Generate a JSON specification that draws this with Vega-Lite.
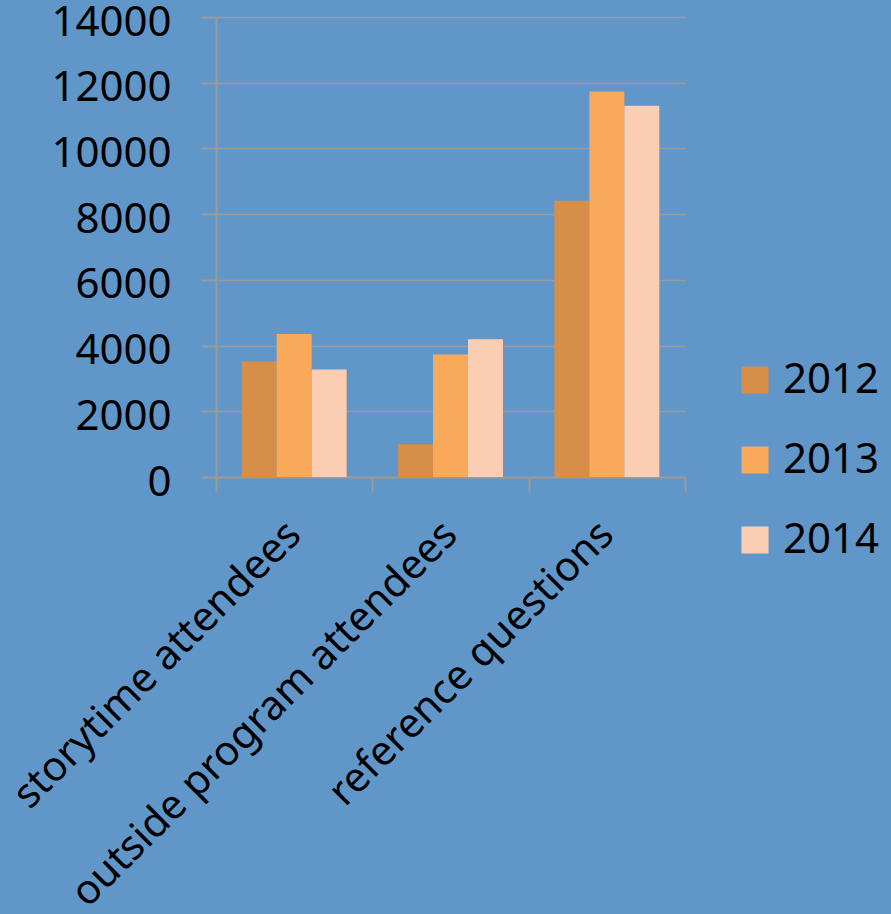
{
  "$schema": "https://vega.github.io/schema/vega-lite/v6.json",
  "autosize": "none",
  "width": 469,
  "height": 460,
  "padding": {"left": 216, "top": 17, "right": 206, "bottom": 437},
  "background": "#6096c8",
  "config": {
    "view": {"stroke": null},
    "font": "Noto Sans",
    "axis": {
      "labelFont": "Noto Sans",
      "labelFontSize": 42,
      "labelColor": "#000000",
      "domainColor": "#9a9a9a",
      "tickColor": "#9a9a9a",
      "gridColor": "#9a9a9a",
      "domainWidth": 2,
      "tickWidth": 2,
      "gridWidth": 1.5,
      "tickSize": 15
    },
    "legend": {"labelFont": "Noto Sans", "labelFontSize": 42, "labelColor": "#000000"}
  },
  "data": {
    "values": [
      {"category": "storytime attendees", "year": "2012", "value": 3520},
      {"category": "storytime attendees", "year": "2013", "value": 4350},
      {"category": "storytime attendees", "year": "2014", "value": 3270},
      {"category": "outside program attendees", "year": "2012", "value": 1000},
      {"category": "outside program attendees", "year": "2013", "value": 3730},
      {"category": "outside program attendees", "year": "2014", "value": 4190},
      {"category": "reference questions", "year": "2012", "value": 8410},
      {"category": "reference questions", "year": "2013", "value": 11730},
      {"category": "reference questions", "year": "2014", "value": 11300}
    ]
  },
  "mark": {"type": "bar"},
  "encoding": {
    "x": {
      "field": "category",
      "type": "nominal",
      "sort": ["storytime attendees", "outside program attendees", "reference questions"],
      "scale": {"paddingInner": 0, "paddingOuter": 0},
      "axis": {
        "title": null,
        "labelAngle": -45,
        "labelAlign": "right",
        "labelBaseline": "middle",
        "labelFontSize": 41,
        "labelPadding": 36,
        "tickBand": "extent",
        "grid": false,
        "labelLimit": 1000
      }
    },
    "xOffset": {"field": "year", "type": "nominal", "scale": {"paddingInner": 0, "paddingOuter": 0.734}},
    "y": {
      "field": "value",
      "type": "quantitative",
      "scale": {"domain": [0, 14000], "nice": false},
      "axis": {
        "title": null,
        "values": [0, 2000, 4000, 6000, 8000, 10000, 12000, 14000],
        "format": "d",
        "labelPadding": 30,
        "labelOffset": 5,
        "grid": true
      }
    },
    "color": {
      "field": "year",
      "type": "nominal",
      "scale": {"domain": ["2012", "2013", "2014"], "range": ["#d68e48", "#f9a95a", "#fbceb4"]},
      "legend": {
        "title": null,
        "orient": "none",
        "legendX": 518,
        "legendY": 342,
        "symbolType": "square",
        "symbolSize": 729,
        "symbolStrokeWidth": 0,
        "rowPadding": 38,
        "labelOffset": 7
      }
    }
  }
}
